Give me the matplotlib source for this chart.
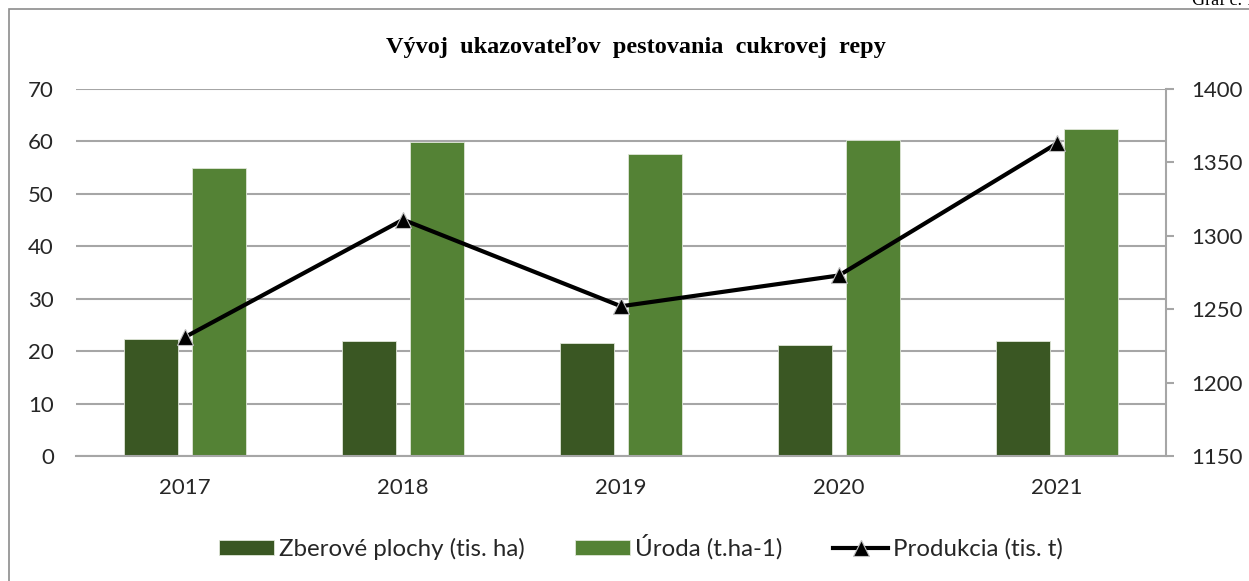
import numpy as np
import matplotlib
matplotlib.use("Agg")
import matplotlib.pyplot as plt
from matplotlib.patches import Rectangle

# data
years = ["2017", "2018", "2019", "2020", "2021"]
plochy = [22.3, 21.9, 21.6, 21.1, 21.9]          # Zberové plochy (tis. ha)
uroda = [54.9, 59.9, 57.6, 60.3, 62.4]           # Úroda (t.ha-1)
produkcia = [1231, 1311, 1252, 1273, 1363]       # Produkcia (tis. t)

dark_green = "#3a5723"
light_green = "#548235"
grid_col = "#a6a6a6"
txt_col = "#262626"

plt.rcParams["font.family"] = ["Lato", "DejaVu Sans"]

W, H = 1249, 581
fig = plt.figure(figsize=(W / 100, H / 100), dpi=100)

# outer frame (right and bottom edges run off the picture)
fig.patches.append(Rectangle((9 / W, -0.1), 1.2, 1 - 9 / H + 0.1, transform=fig.transFigure,
                             fill=False, edgecolor="#8c8c8c", linewidth=1.2))

# caption in the top right corner, partly cut off like in the source
fig.text(1192 / W, 1 - 5 / H, "Graf č. 1", fontsize=13, family="Liberation Serif",
         ha="left", va="baseline", color="black")

fig.text(636 / W, 1 - 47 / H, "Vývoj  ukazovateľov  pestovania  cukrovej  repy",
         fontsize=17.5, family="Liberation Serif", fontweight="bold", ha="center", va="center")

ax = fig.add_axes([76 / W, 1 - 456 / H, (1166 - 76) / W, (456 - 89) / H])
x = np.arange(len(years))
w = 0.25
b1 = ax.bar(x - 0.155, plochy, w, color=dark_green, edgecolor="#dfe6d8", linewidth=0.6,
            label="Zberové plochy (tis. ha)", zorder=2)
b2 = ax.bar(x + 0.155, uroda, w, color=light_green, edgecolor="#dfe6d8", linewidth=0.6,
            label="Úroda (t.ha-1)", zorder=2)

ax.set_xlim(-0.5, len(years) - 0.5)
ax.set_ylim(0, 70)
ax.set_yticks(range(0, 71, 10))
ax.set_xticks(x)
ax.set_xticklabels(years)
ax.yaxis.grid(True, color=grid_col, linewidth=1.5, zorder=0)
ax.set_axisbelow(True)
for s in ["top", "left", "right"]:
    ax.spines[s].set_visible(False)
ax.spines["bottom"].set_color(grid_col)
ax.spines["bottom"].set_linewidth(1.5)
ax.tick_params(axis="y", length=0, pad=16, labelsize=16, labelcolor=txt_col)
ax.tick_params(axis="x", length=0, pad=16, labelsize=16, labelcolor=txt_col)

ax2 = ax.twinx()
ln, = ax2.plot(x, produkcia, color="black", linewidth=3, marker="^", markersize=12,
               markerfacecolor="black", markeredgecolor="#bfbfbf", markeredgewidth=0.8,
               label="Produkcia (tis. t)", zorder=3)
ax2.set_ylim(1150, 1400)
ax2.set_yticks(range(1150, 1401, 50))
for s in ["top", "left", "bottom"]:
    ax2.spines[s].set_visible(False)
ax2.spines["right"].set_color(grid_col)
ax2.spines["right"].set_linewidth(1.5)
ax2.tick_params(axis="y", length=6, width=1.5, color=grid_col, pad=12,
                labelsize=16, labelcolor=txt_col)

fig.legend([b1, b2, ln], [b1.get_label(), b2.get_label(), ln.get_label()],
           loc="center", bbox_to_anchor=(641 / W, 1 - 547 / H), ncol=3, frameon=False,
           fontsize=17.3, handlelength=2.3, handleheight=0.6, handletextpad=0.2,
           columnspacing=2.1, labelcolor=txt_col)

fig.savefig("out.png", dpi=100)
